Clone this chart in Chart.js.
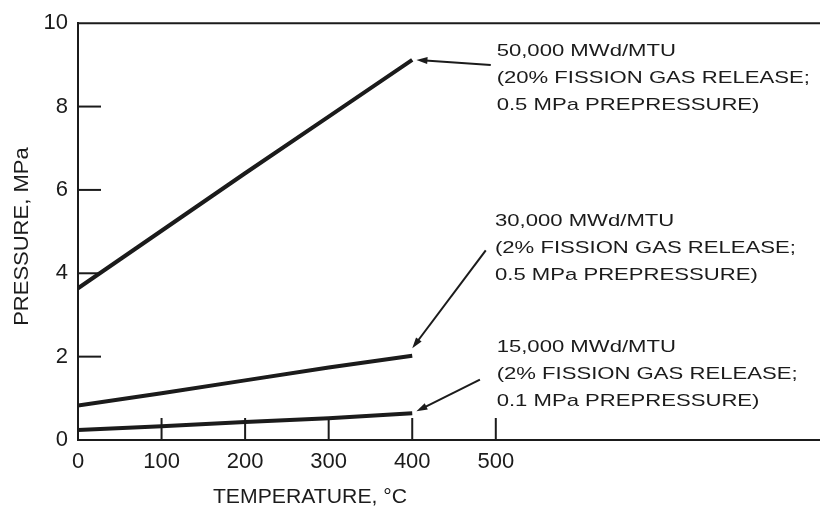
<!DOCTYPE html>
<html>
<head>
<meta charset="utf-8">
<script src="https://cdn.jsdelivr.net/npm/chart.js@4.4.1/dist/chart.umd.min.js"></script>
<style>
  html, body { margin: 0; padding: 0; background: #fff; }
  canvas { display: block; }
</style>
</head>
<body>
<canvas id="pressureChart" width="820" height="506"></canvas>
<script>
// values
const temperature = [0, 100, 200, 300, 400];
const pressure50k = [3.64, 5.02, 6.40, 7.76, 9.12];
const pressure30k = [0.83, 1.12, 1.43, 1.74, 2.02];
const pressure15k = [0.24, 0.33, 0.43, 0.52, 0.64];

const xTickValues = [0, 100, 200, 300, 400, 500];
const yTickValues = [0, 2, 4, 6, 8, 10];
const innerXTicks = [100, 200, 300, 400, 500];
const innerYTicks = [2, 4, 6, 8];

const label50k = ["50,000 MWd/MTU", "(20% FISSION GAS RELEASE;", "0.5 MPa PREPRESSURE)"];
const label30k = ["30,000 MWd/MTU", "(2% FISSION GAS RELEASE;", "0.5 MPa PREPRESSURE)"];
const label15k = ["15,000 MWd/MTU", "(2% FISSION GAS RELEASE;", "0.1 MPa PREPRESSURE)"];

const xTitle = "TEMPERATURE, \u00B0C";
const yTitle = "PRESSURE, MPa";

const INK = "#1b1b1b";
const FONT = "'Liberation Sans', Arial, sans-serif";

const toPoints = ys => temperature.map((t, i) => ({ x: t, y: ys[i] }));

const lineStyle = {
  borderColor: INK,
  borderWidth: 4,
  pointRadius: 0,
  fill: false,
  tension: 0
};

// label blocks and arrows, anchored in data units
const notes = [
  { lines: label50k, x: 501, y: 9.21, tail: [494, 9.0], head: [405, 9.12] },
  { lines: label30k, x: 499, y: 5.14, tail: [488, 4.55], head: [400, 2.2] },
  { lines: label15k, x: 501, y: 2.10, tail: [481, 1.45], head: [405, 0.69] }
];

const drawArrow = (c, x1, y1, x2, y2) => {
  const ang = Math.atan2(y2 - y1, x2 - x1);
  const len = 11, half = 3.5;
  c.beginPath();
  c.moveTo(x1, y1);
  c.lineTo(x2 - Math.cos(ang) * len * 0.8, y2 - Math.sin(ang) * len * 0.8);
  c.stroke();
  c.beginPath();
  c.moveTo(x2, y2);
  c.lineTo(x2 - Math.cos(ang) * len + Math.sin(ang) * half, y2 - Math.sin(ang) * len - Math.cos(ang) * half);
  c.lineTo(x2 - Math.cos(ang) * len - Math.sin(ang) * half, y2 - Math.sin(ang) * len + Math.cos(ang) * half);
  c.closePath();
  c.fill();
};

const stretchText = (c, text, x, y, sx) => {
  c.save();
  c.translate(x, y);
  c.scale(sx, 1);
  c.fillText(text, 0, 0);
  c.restore();
};

const figureExtras = {
  id: "figureExtras",
  afterDraw(chart) {
    const c = chart.ctx;
    const area = chart.chartArea;
    const xs = chart.scales.x;
    const ys = chart.scales.y;
    c.save();
    c.strokeStyle = INK;
    c.fillStyle = INK;
    c.lineCap = "butt";

    // top frame line
    c.lineWidth = 2;
    c.beginPath();
    c.moveTo(area.left - 1, area.top);
    c.lineTo(area.right, area.top);
    c.stroke();

    // inward tick marks
    innerYTicks.forEach(v => {
      const py = ys.getPixelForValue(v);
      c.beginPath();
      c.moveTo(area.left, py);
      c.lineTo(area.left + 23, py);
      c.stroke();
    });
    innerXTicks.forEach(v => {
      const px = xs.getPixelForValue(v);
      c.beginPath();
      c.moveTo(px, area.bottom);
      c.lineTo(px, area.bottom - 22);
      c.stroke();
    });

    // arrows + labels
    c.lineWidth = 2;
    notes.forEach(n => {
      drawArrow(c,
        xs.getPixelForValue(n.tail[0]), ys.getPixelForValue(n.tail[1]),
        xs.getPixelForValue(n.head[0]), ys.getPixelForValue(n.head[1]));
      c.font = "17px " + FONT;
      c.textAlign = "left";
      c.textBaseline = "alphabetic";
      const tx = xs.getPixelForValue(n.x);
      const ty = ys.getPixelForValue(n.y);
      n.lines.forEach((ln, i) => stretchText(c, ln, tx, ty + i * 27, 1.3));
    });

    // axis titles
    c.font = "20px " + FONT;
    c.textAlign = "center";
    c.textBaseline = "alphabetic";
    stretchText(c, xTitle, 310, 503, 1.06);

    c.save();
    c.translate(28, (area.top + area.bottom) / 2 + 5);
    c.rotate(-Math.PI / 2);
    c.scale(1.1, 1);
    c.fillText(yTitle, 0, 0);
    c.restore();

    c.restore();
  }
};

new Chart(document.getElementById("pressureChart"), {
  type: "line",
  data: {
    datasets: [
      { label: label50k[0], data: toPoints(pressure50k), ...lineStyle },
      { label: label30k[0], data: toPoints(pressure30k), ...lineStyle },
      { label: label15k[0], data: toPoints(pressure15k), ...lineStyle }
    ]
  },
  options: {
    responsive: false,
    animation: false,
    devicePixelRatio: 1,
    layout: { padding: { top: 20, right: 0, left: 0, bottom: 0 } },
    plugins: {
      legend: { display: false },
      tooltip: { enabled: false },
      title: { display: false }
    },
    scales: {
      x: {
        type: "linear",
        min: 0,
        max: 888,
        afterBuildTicks: s => { s.ticks = xTickValues.map(v => ({ value: v })); },
        afterFit: s => { s.height = 66; },
        grid: { display: false, drawTicks: false },
        border: { display: true, color: INK, width: 2 },
        ticks: {
          color: INK,
          font: { family: FONT, size: 22 },
          padding: 9,
          maxRotation: 0,
          autoSkip: false
        }
      },
      y: {
        min: 0,
        max: 10,
        afterBuildTicks: s => { s.ticks = yTickValues.map(v => ({ value: v })); },
        afterFit: s => { s.width = 78; },
        grid: { display: false, drawTicks: false },
        border: { display: true, color: INK, width: 2 },
        ticks: {
          color: INK,
          font: { family: FONT, size: 22 },
          padding: 10
        }
      }
    }
  },
  plugins: [figureExtras]
});
</script>
</body>
</html>
